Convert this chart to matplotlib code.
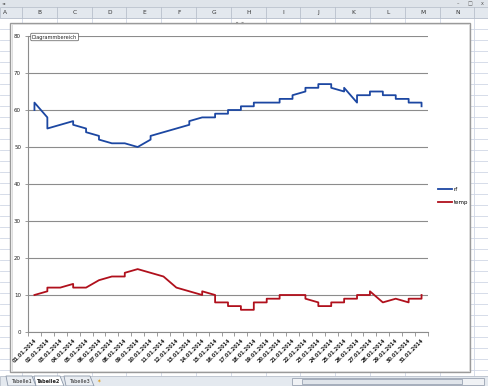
import matplotlib
matplotlib.use('Agg')
import matplotlib.pyplot as plt
from matplotlib.patches import Rectangle, Polygon

# data: several readings per day -> vertical steps on the same date
dates = ['%02d.01.2014' % d for d in range(1, 32)]

rf_days = [1,1,2,2,3,4,4,5,5,6,6,7,8,9,10,10,11,12,13,13,14,15,15,16,16,17,17,
           18,18,19,20,20,21,21,22,22,23,23,24,24,25,25,26,26,27,27,28,28,29,29,30,30,31,31]
rf_vals = [60,62,58,55,56,57,56,55,54,53,52,51,51,50,52,53,54,55,56,57,58,58,59,59,60,60,61,
           61,62,62,62,63,63,64,65,66,66,67,67,66,65,66,62,64,64,65,65,64,64,63,63,62,62,61]

temp_days = [1,2,2,3,4,4,5,6,7,8,8,9,10,11,12,13,14,14,15,15,16,16,17,17,18,18,19,19,
             20,20,21,22,22,23,23,24,24,25,25,26,26,27,27,28,29,30,30,31,31]
temp_vals = [10,11,12,12,13,12,12,14,15,15,16,17,16,15,12,11,10,11,10,8,8,7,7,6,6,8,8,9,
             9,10,10,10,9,8,7,7,8,8,9,9,10,10,11,8,9,8,9,9,10]

col_letters = list('ABCDEFGHIJKLMN')
sheet_tabs = ['Tabelle1', 'Tabelle2', 'Tabelle3']

W, H = 489, 386
fig = plt.figure(figsize=(W/100, H/100), dpi=100)

# ---- spreadsheet background (pixel coords) ----
bg = fig.add_axes([0, 0, 1, 1], zorder=-1)
bg.set_xlim(0, W)
bg.set_ylim(H, 0)
bg.axis('off')
grid_c = '#d0d7e5'
for k in range(15):
    x = 22 + 34.8*k
    bg.plot([x, x], [18, 376], color=grid_c, lw=0.6, zorder=1)
y = 18
while y < 376:
    bg.plot([0, W], [y, y], color=grid_c, lw=0.6, zorder=1)
    y += 11
# title strip + column header
bg.add_patch(Rectangle((0, 0), W, 7, facecolor='#dfe4ea', edgecolor='none', zorder=3))
bg.add_patch(Rectangle((0, 7), W, 11, facecolor='#e3e8ee', edgecolor='#b8c0cc', lw=0.6, zorder=3))
for k, c in enumerate(col_letters):
    bg.text(5 + 34.8*k, 12.8, c, fontsize=4.2, ha='center', va='center', color='#333333', zorder=4)
    bg.plot([22 + 34.8*k]*2, [7, 18], color='#b8c0cc', lw=0.6, zorder=4)
bg.text(2, 3.2, '\u25c4', fontsize=3, ha='left', va='center', color='#555555', zorder=4)
for xx, s in [(458, '\u2013'), (470, '\u25a1'), (482, 'x')]:
    bg.text(xx, 3.5, s, fontsize=3.5, ha='center', va='center', color='#555555', zorder=4)

# chart area
bg.add_patch(Rectangle((10, 22.5), 460, 349.5, facecolor='white', edgecolor='#9a9a9a', lw=1.0, zorder=5))
bg.add_patch(Rectangle((11.5, 24), 457, 346.5, facecolor='none', edgecolor='#d8d8d8', lw=0.6, zorder=6))
bg.plot([236, 244], [22.5, 22.5], color='#9a9a9a', lw=1.5, ls=':', zorder=6)

# sheet tabs + scrollbar
bg.add_patch(Rectangle((0, 376), W, 10, facecolor='#e4e9ef', edgecolor='#b8c0cc', lw=0.6, zorder=5))
tab_x = [20, 48, 78]
for i, (tx, t) in enumerate(zip(tab_x, sheet_tabs)):
    fc = 'white' if i == 1 else '#e9edf2'
    bg.add_patch(Polygon([[tx-14, 376], [tx+12, 376], [tx+16, 386], [tx-12, 386]],
                         closed=True, facecolor=fc, edgecolor='#8a96a8', lw=0.6, zorder=6))
    bg.text(tx+1, 381.5, t, fontsize=3.6, ha='center', va='center', color='#222222',
            fontweight='bold' if i == 1 else 'normal', zorder=7)
bg.text(99, 381, '\u2736', fontsize=4, ha='center', va='center', color='#e0a020', zorder=7)
bg.add_patch(Rectangle((292, 377.5), 192, 7.5, facecolor='#f0f2f5', edgecolor='#9aa4b2', lw=0.6, zorder=6))
bg.add_patch(Rectangle((302, 378.5), 160, 5.5, facecolor='#dfe4ea', edgecolor='#8a96a8', lw=0.5, zorder=7))

# ---- chart ----
ax = fig.add_axes([28/W, 1-332/H, 400/W, 296/H])
ax.set_facecolor('none')
ax.plot(rf_days, rf_vals, color='#1c47a2', lw=1.3, label='rf', zorder=3)
ax.plot(temp_days, temp_vals, color='#b0101c', lw=1.3, label='temp', zorder=3)

ax.set_xlim(0.5, 31.5)
ax.set_ylim(0, 80)
ax.set_yticks(range(0, 81, 10))
ax.yaxis.grid(True, color='#8c8c8c', lw=0.8)
ax.set_axisbelow(True)
ax.set_xticks(range(1, 32))
ax.set_xticklabels(dates, rotation=45, ha='right', rotation_mode='anchor',
                   fontsize=3.6, fontweight='bold', color='#222222')
ax.set_xticks([k + 0.5 for k in range(0, 32)], minor=True)
ax.tick_params(axis='x', which='major', length=0, pad=4)
ax.tick_params(axis='x', which='minor', length=3, color='#8c8c8c', width=0.6)
ax.tick_params(axis='y', length=2, color='#8c8c8c', width=0.6, labelsize=4, pad=3,
               labelcolor='#222222')
for s in ['top', 'right']:
    ax.spines[s].set_visible(False)
for s in ['left', 'bottom']:
    ax.spines[s].set_color('#8c8c8c')
    ax.spines[s].set_linewidth(0.8)

ax.legend(loc='center left', bbox_to_anchor=(1.025, 0.46), frameon=False, fontsize=4,
          handlelength=2.6, handletextpad=0.2, labelspacing=1.4, borderpad=0, borderaxespad=0)

fig.text(32/W, 1-37/H, 'Diagrammbereich', fontsize=3.6, ha='left', va='center', color='#222222',
         bbox=dict(boxstyle='round,pad=0.25,rounding_size=0.2', facecolor='white',
                   edgecolor='#555555', lw=0.5), zorder=5)

fig.savefig('out.png', dpi=100)
